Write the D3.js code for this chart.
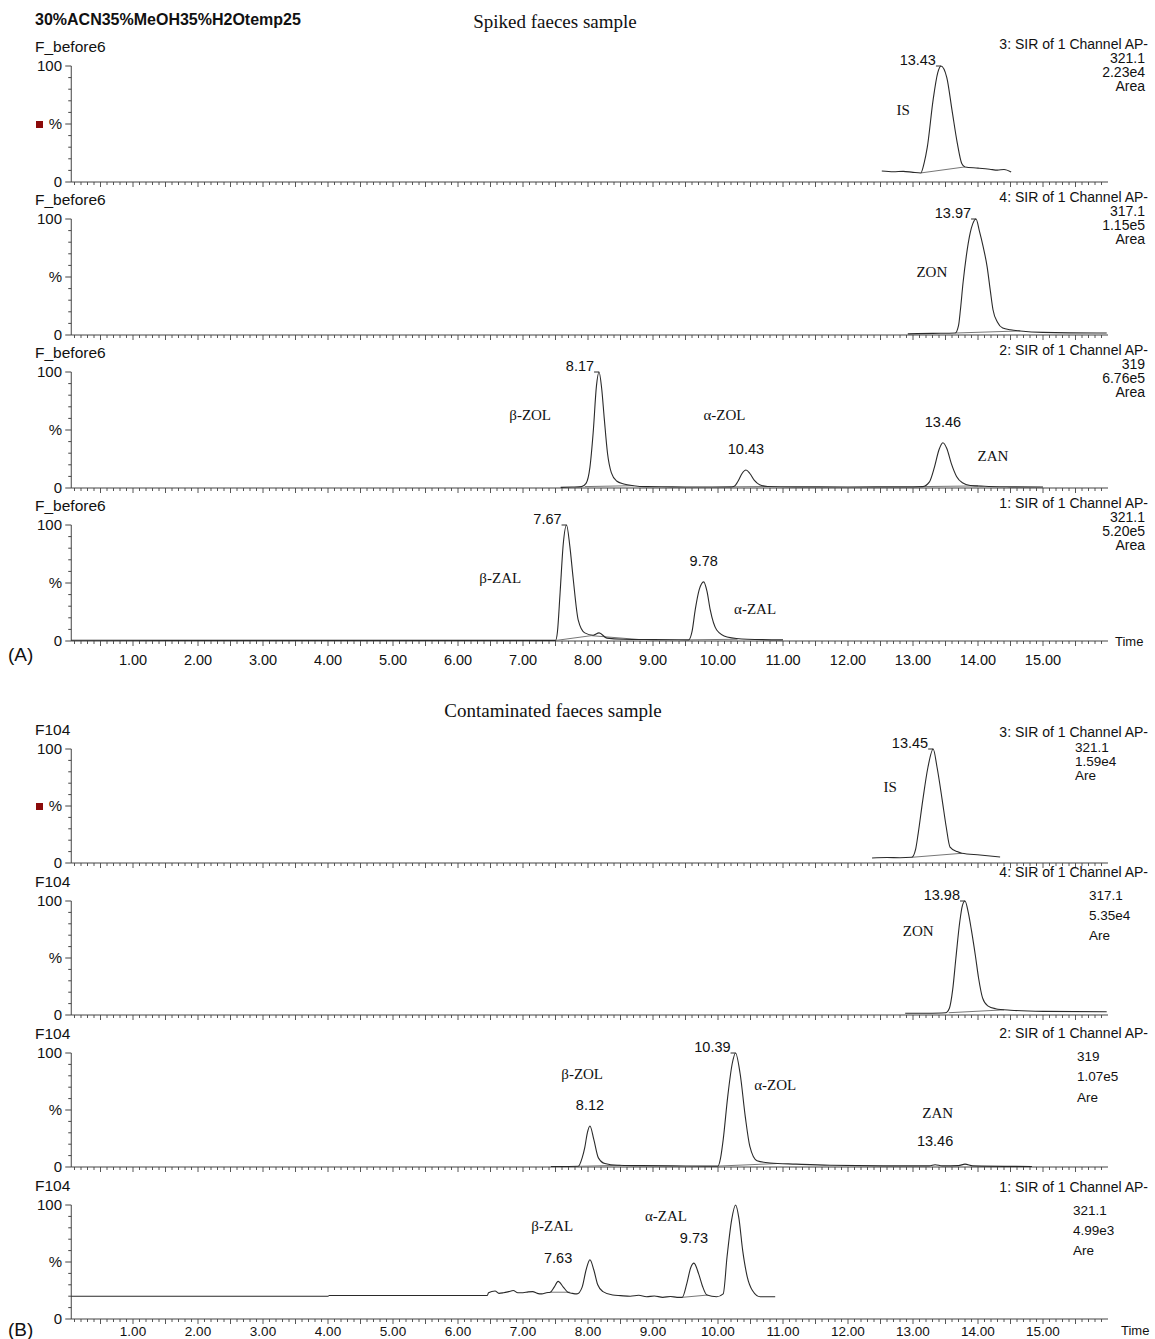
<!DOCTYPE html>
<html lang="en">
<head>
  <meta charset="UTF-8">
  <title>Spiked and contaminated faeces chromatograms</title>
  <script src="https://d3js.org/d3.v7.min.js"></script>
  <style>
    body { margin: 0; background: #fff; }
    text { font-family: "Liberation Sans", Arial, sans-serif; fill: #111; }
    .serif { font-family: "Liberation Serif", "Times New Roman", serif; }
  </style>
</head>
<body>
  <script>
    // tick labels of the time axis
    const timeTicks = [1, 2, 3, 4, 5, 6, 7, 8, 9, 10, 11, 12, 13, 14, 15];
    const percentTicks = [0, 10, 20, 30, 40, 50, 60, 70, 80, 90, 100];

    // traces: [time (min), intensity (%)]
    const spikedIS = [[12.52, 9.5], [12.7, 8.8], [12.85, 9.2], [13.0, 8.3], [13.12, 7.8], [13.17, 16], [13.22, 30], [13.31, 71],
      [13.38, 94], [13.43, 100], [13.52, 90], [13.60, 62], [13.68, 34], [13.75, 16], [13.80, 13], [14.0, 12], [14.18, 11],
      [14.3, 10.2], [14.4, 10.8], [14.51, 8.6]];
    const spikedZON = [[12.92, 1], [13.3, 1.4], [13.65, 1.7], [13.70, 8], [13.73, 22], [13.77, 45], [13.82, 68], [13.88, 88],
      [13.92, 96], [13.97, 100], [14.02, 90], [14.08, 76], [14.14, 59], [14.19, 38], [14.23, 22], [14.30, 11], [14.38, 6],
      [14.5, 4.5], [14.65, 3.5], [15.0, 2.3], [15.98, 1.7]];
    const spikedZOL = [[7.58, 0.5], [7.75, 0.8], [7.9, 1.2], [7.97, 4], [8.03, 18], [8.08, 48], [8.13, 88], [8.17, 100],
      [8.21, 86], [8.25, 60], [8.30, 30], [8.36, 13], [8.44, 6], [8.55, 3.5], [8.7, 2], [8.9, 1.2], [9.3, 1], [9.8, 0.8],
      [10.2, 1], [10.25, 1.5], [10.31, 6], [10.37, 12.5], [10.43, 15.5], [10.49, 12.5], [10.56, 6.5], [10.64, 2.8],
      [10.76, 1.3], [11.2, 1], [12.0, 0.9], [12.8, 1], [13.15, 1.2], [13.25, 5], [13.33, 18], [13.40, 33], [13.46, 39],
      [13.52, 34], [13.59, 21], [13.67, 10], [13.76, 4.5], [13.88, 2.2], [14.1, 1.5], [14.5, 1], [15.0, 0.8]];
    const spikedZAL = [[0.05, 0.6], [3.3, 0.5], [7.5, 0.5], [7.53, 8], [7.57, 41], [7.62, 84], [7.67, 100], [7.72, 82],
      [7.77, 55], [7.85, 18], [7.95, 7], [8.08, 5], [8.17, 7], [8.29, 2.5], [8.54, 1.5], [9.0, 1.2], [9.55, 1], [9.60, 8],
      [9.65, 27], [9.71, 44], [9.78, 51], [9.83, 43], [9.88, 27], [9.98, 9.5], [10.14, 3.5], [10.45, 1.5], [11.0, 1]];

    const contIS = [[12.37, 4.4], [12.6, 4.8], [12.8, 4.6], [12.98, 5], [13.04, 12], [13.08, 26], [13.15, 55], [13.23, 84],
      [13.31, 100], [13.37, 84], [13.45, 55], [13.51, 32], [13.57, 14], [13.68, 10], [13.75, 8.5], [14.03, 7], [14.34, 5.3]];
    const contZON = [[12.88, 1.5], [13.2, 1.6], [13.5, 2], [13.56, 6], [13.61, 22], [13.66, 50], [13.72, 82], [13.76, 96],
      [13.80, 100], [13.85, 90], [13.90, 74], [13.96, 52], [14.01, 32], [14.07, 15], [14.15, 8], [14.27, 5.5], [14.5, 4.2],
      [15.0, 3.2], [15.98, 2.8]];
    const contZOL = [[7.43, 0.5], [7.7, 0.5], [7.85, 0.6], [7.91, 8], [7.95, 17], [7.99, 30], [8.03, 36], [8.09, 24],
      [8.16, 8], [8.26, 3], [8.45, 1.5], [8.8, 1.2], [9.3, 1], [9.8, 0.8], [10.0, 0.8], [10.04, 8], [10.08, 24], [10.15, 62],
      [10.22, 91], [10.27, 100], [10.34, 82], [10.42, 44], [10.49, 18], [10.6, 5.5], [10.8, 3.5], [11.2, 2.5], [11.72, 1.5],
      [12.75, 1], [13.25, 1], [13.34, 2], [13.45, 1], [13.7, 1.2], [13.8, 2.5], [13.92, 1], [14.83, 0.5]];
    const contZAL = [[0.05, 20], [4.0, 20], [4.02, 20.6], [6.45, 20.6], [6.47, 23], [6.57, 24.5], [6.63, 22.5], [6.7, 23],
      [6.78, 24], [6.85, 25], [6.92, 23], [7.0, 23], [7.08, 23.8], [7.15, 24], [7.22, 22.5], [7.29, 22], [7.36, 23],
      [7.42, 23.5], [7.48, 28], [7.54, 33], [7.62, 28], [7.69, 23.5], [7.76, 22.5], [7.83, 22], [7.91, 28], [7.97, 43],
      [8.03, 52], [8.09, 43], [8.15, 30], [8.23, 24], [8.38, 21], [8.5, 20.5], [8.65, 20], [8.78, 20.8], [8.9, 19.5],
      [9.02, 20.2], [9.15, 19], [9.27, 19.8], [9.37, 19], [9.45, 19], [9.52, 31], [9.58, 45], [9.63, 49], [9.7, 40],
      [9.76, 29], [9.83, 21], [9.98, 19.5], [10.08, 22], [10.14, 55], [10.21, 87], [10.27, 100], [10.32, 89], [10.38, 60],
      [10.45, 37], [10.53, 25], [10.65, 19.5], [10.88, 19.5]];

    // integration baselines drawn under the peaks
    const spikedISBase = [[[13.12, 7.8], [13.80, 13]]];
    const spikedZONBase = [[[13.65, 1.7], [14.65, 3.5]]];
    const spikedZOLBase = [[[7.95, 1.2], [8.7, 2]], [[10.22, 1], [10.76, 1.3]], [[13.15, 1.2], [14.0, 1.8]]];
    const spikedZALBase = [[[7.51, 0.5], [8.05, 4.6]], [[8.05, 4.6], [8.8, 1.2]], [[9.55, 1], [10.3, 1.5]]];
    const contISBase = [[[12.98, 5], [13.75, 8.5]]];
    const contZONBase = [[[13.55, 2], [14.4, 4.5]]];
    const contZOLBase = [[[7.85, 0.6], [8.5, 1.5]], [[10.0, 0.8], [10.9, 3]]];
    const contZALBase = [[[7.42, 23.5], [7.72, 23.5]], [[9.45, 19], [9.84, 21]]];

    // retention time labels: apex and where the label sits
    const spikedISPeaks = [{ t: 13.43, v: 100, label: "13.43", side: "left" }];
    const spikedZONPeaks = [{ t: 13.97, v: 100, label: "13.97", side: "left" }];
    const spikedZOLPeaks = [{ t: 8.17, v: 100, label: "8.17", side: "left" },
      { t: 10.43, v: 15.5, label: "10.43", side: "top" }, { t: 13.46, v: 39, label: "13.46", side: "top" }];
    const spikedZALPeaks = [{ t: 7.67, v: 100, label: "7.67", side: "left" }, { t: 9.78, v: 51, label: "9.78", side: "top" }];
    const contISPeaks = [{ t: 13.31, v: 100, label: "13.45", side: "left" }];
    const contZONPeaks = [{ t: 13.80, v: 100, label: "13.98", side: "left" }];
    const contZOLPeaks = [{ t: 8.03, v: 36, label: "8.12", side: "top" }, { t: 10.27, v: 100, label: "10.39", side: "left" },
      { t: 13.34, v: 4, label: "13.46", side: "top" }];
    const contZALPeaks = [{ t: 7.54, v: 35, label: "7.63", side: "top" }, { t: 9.63, v: 53, label: "9.73", side: "top" }];

    // compound names (time, %)
    const spikedISNames = [{ t: 12.85, v: 62, name: "IS" }];
    const spikedZONNames = [{ t: 13.29, v: 54, name: "ZON" }];
    const spikedZOLNames = [{ t: 7.11, v: 63, name: "β-ZOL" }, { t: 10.1, v: 63, name: "α-ZOL" }, { t: 14.23, v: 28, name: "ZAN" }];
    const spikedZALNames = [{ t: 6.65, v: 54, name: "β-ZAL" }, { t: 10.57, v: 28, name: "α-ZAL" }];
    const contISNames = [{ t: 12.65, v: 67, name: "IS" }];
    const contZONNames = [{ t: 13.08, v: 74, name: "ZON" }];
    const contZOLNames = [{ t: 7.91, v: 82, name: "β-ZOL" }, { t: 10.88, v: 72, name: "α-ZOL" }, { t: 13.38, v: 47, name: "ZAN" }];
    const contZALNames = [{ t: 7.45, v: 82, name: "β-ZAL" }, { t: 9.2, v: 90, name: "α-ZAL" }];

    // channel descriptions at the right
    const spikedISInfo = ["3: SIR of 1 Channel AP-", "321.1", "2.23e4", "Area"];
    const spikedZONInfo = ["4: SIR of 1 Channel AP-", "317.1", "1.15e5", "Area"];
    const spikedZOLInfo = ["2: SIR of 1 Channel AP-", "319", "6.76e5", "Area"];
    const spikedZALInfo = ["1: SIR of 1 Channel AP-", "321.1", "5.20e5", "Area"];
    const contISInfo = ["3: SIR of 1 Channel AP-", "321.1", "1.59e4", "Are"];
    const contZONInfo = ["4: SIR of 1 Channel AP-", "317.1", "5.35e4", "Are"];
    const contZOLInfo = ["2: SIR of 1 Channel AP-", "319", "1.07e5", "Are"];
    const contZALInfo = ["1: SIR of 1 Channel AP-", "321.1", "4.99e3", "Are"];

    const width = 1155;
    const height = 1339;

    const svg = d3.select("body").append("svg")
      .attr("width", width)
      .attr("height", height);

    const x = d3.scaleLinear().domain([0, 16]).range([68, 1108]);
    const axisStart = 0.05;

    // row layout; info: offsets of the four lines, x of lines 2-4 (null = right aligned)
    const rows = [
      { top: 66, h: 116, sample: "F_before6", trace: spikedIS, base: spikedISBase, peaks: spikedISPeaks, names: spikedISNames, info: spikedISInfo, marker: true, infoDy: [-17, -3, 11, 25], infoX: null },
      { top: 219, h: 116, sample: "F_before6", trace: spikedZON, base: spikedZONBase, peaks: spikedZONPeaks, names: spikedZONNames, info: spikedZONInfo, infoDy: [-17, -3, 11, 25], infoX: null },
      { top: 372, h: 116, sample: "F_before6", trace: spikedZOL, base: spikedZOLBase, peaks: spikedZOLPeaks, names: spikedZOLNames, info: spikedZOLInfo, infoDy: [-17, -3, 11, 25], infoX: null },
      { top: 525, h: 116, sample: "F_before6", trace: spikedZAL, base: spikedZALBase, peaks: spikedZALPeaks, names: spikedZALNames, info: spikedZALInfo, infoDy: [-17, -3, 11, 25], infoX: null, last: "A" },
      { top: 749, h: 114, sample: "F104", trace: contIS, base: contISBase, peaks: contISPeaks, names: contISNames, info: contISInfo, marker: true, infoDy: [-12, 3, 17, 31], infoX: 1075 },
      { top: 901, h: 114, sample: "F104", trace: contZON, base: contZONBase, peaks: contZONPeaks, names: contZONNames, info: contZONInfo, infoDy: [-24, -1, 19, 39], infoX: 1089 },
      { top: 1053, h: 114, sample: "F104", trace: contZOL, base: contZOLBase, peaks: contZOLPeaks, names: contZOLNames, info: contZOLInfo, infoDy: [-15, 8, 28, 49], infoX: 1077 },
      { top: 1205, h: 114, sample: "F104", trace: contZAL, base: contZALBase, peaks: contZALPeaks, names: contZALNames, info: contZALInfo, infoDy: [-13, 10, 30, 50], infoX: 1073, last: "B" }
    ];

    // headings
    svg.append("text").attr("x", 35).attr("y", 25)
      .attr("font-size", 16).attr("font-weight", "bold")
      .text("30%ACN35%MeOH35%H2Otemp25");
    svg.append("text").attr("class", "serif").attr("x", 555).attr("y", 28)
      .attr("font-size", 19).attr("text-anchor", "middle")
      .text("Spiked faeces sample");
    svg.append("text").attr("class", "serif").attr("x", 553).attr("y", 717)
      .attr("font-size", 19).attr("text-anchor", "middle")
      .text("Contaminated faeces sample");

    const minorTimes = d3.range(1, 160).map(i => i / 10);

    rows.forEach(r => {
      const y = d3.scaleLinear().domain([0, 100]).range([r.top + r.h, r.top]);
      const g = svg.append("g");
      const y0 = y(0);

      // sample name
      g.append("text").attr("x", 35).attr("y", r.top - 14)
        .attr("font-size", 15.5).text(r.sample);

      // y axis
      g.append("line").attr("x1", x(axisStart)).attr("x2", x(axisStart))
        .attr("y1", y(0)).attr("y2", y(100)).attr("stroke", "#444");
      g.selectAll(".ytick").data(percentTicks).enter().append("line")
        .attr("x1", d => x(axisStart) - (d % 50 === 0 ? 6 : 3))
        .attr("x2", x(axisStart))
        .attr("y1", d => y(d)).attr("y2", d => y(d))
        .attr("stroke", "#444");
      g.append("text").attr("x", 62).attr("y", y(100) + 5).attr("font-size", 15)
        .attr("text-anchor", "end").text("100");
      g.append("text").attr("x", 62).attr("y", y(50) + 5).attr("font-size", 15)
        .attr("text-anchor", "end").text("%");
      g.append("text").attr("x", 62).attr("y", y(0) + 5).attr("font-size", 15)
        .attr("text-anchor", "end").text("0");
      if (r.marker) {
        g.append("rect").attr("x", 36).attr("y", y(50) - 3).attr("width", 7).attr("height", 7)
          .attr("fill", "#8b0a0a");
      }

      // time axis
      g.append("line").attr("x1", x(axisStart)).attr("x2", x(16))
        .attr("y1", y0).attr("y2", y0).attr("stroke", "#444");
      g.selectAll(".xtick").data(minorTimes).enter().append("line")
        .attr("x1", d => x(d)).attr("x2", d => x(d))
        .attr("y1", y0)
        .attr("y2", d => y0 + (Math.round(d * 10) % 5 === 0 ? 5 : 3))
        .attr("stroke", "#444").attr("stroke-width", 0.9);

      if (r.last === "A") {
        g.selectAll(".xlab").data(timeTicks).enter().append("text")
          .attr("x", d => x(d)).attr("y", y0 + 24)
          .attr("font-size", 14.5).attr("text-anchor", "middle")
          .text(d => d.toFixed(2));
        g.append("text").attr("x", 8).attr("y", y0 + 20).attr("font-size", 19).text("(A)");
        g.append("text").attr("x", 1115).attr("y", y0 + 5).attr("font-size", 13).text("Time");
      } else if (r.last === "B") {
        g.selectAll(".xlab").data(timeTicks).enter().append("text")
          .attr("x", d => x(d)).attr("y", y0 + 17)
          .attr("font-size", 13.5).attr("text-anchor", "middle")
          .text(d => d.toFixed(2));
        g.append("text").attr("x", 8).attr("y", y0 + 17).attr("font-size", 19).text("(B)");
        g.append("text").attr("x", 1121).attr("y", y0 + 16).attr("font-size", 13).text("Time");
      }

      // integration baselines
      g.selectAll(".base").data(r.base).enter().append("line")
        .attr("x1", d => x(d[0][0])).attr("y1", d => y(d[0][1]))
        .attr("x2", d => x(d[1][0])).attr("y2", d => y(d[1][1]))
        .attr("stroke", "#777").attr("stroke-width", 1);

      // trace
      const line = d3.line()
        .x(d => x(d[0]))
        .y(d => y(d[1]))
        .curve(d3.curveMonotoneX);
      g.append("path").datum(r.trace)
        .attr("d", line)
        .attr("fill", "none")
        .attr("stroke", "#2a2a2a")
        .attr("stroke-width", 1.1);

      // retention time labels
      r.peaks.forEach(p => {
        const px = x(p.t), py = y(p.v);
        if (p.side === "left") {
          g.append("line").attr("x1", px - 5).attr("x2", px).attr("y1", py).attr("y2", py)
            .attr("stroke", "#2a2a2a");
          g.append("text").attr("x", px - 5).attr("y", py - 1)
            .attr("font-size", 14.5).attr("text-anchor", "end").text(p.label);
        } else {
          g.append("text").attr("x", px).attr("y", py - 16)
            .attr("font-size", 14.5).attr("text-anchor", "middle").text(p.label);
        }
      });

      // compound names
      g.selectAll(".name").data(r.names).enter().append("text")
        .attr("class", "serif")
        .attr("x", d => x(d.t)).attr("y", d => y(d.v) + 5)
        .attr("font-size", 15).attr("text-anchor", "middle")
        .text(d => d.name);

      // channel info
      r.info.forEach((s, i) => {
        const t = g.append("text").attr("y", r.top + r.infoDy[i])
          .attr("font-size", r.infoX !== null && i > 0 ? 13.5 : 14).text(s);
        if (i === 0) {
          t.attr("x", 1148).attr("text-anchor", "end");
        } else if (r.infoX === null) {
          t.attr("x", 1145).attr("text-anchor", "end");
        } else {
          t.attr("x", r.infoX);
        }
      });
    });
  </script>
</body>
</html>
